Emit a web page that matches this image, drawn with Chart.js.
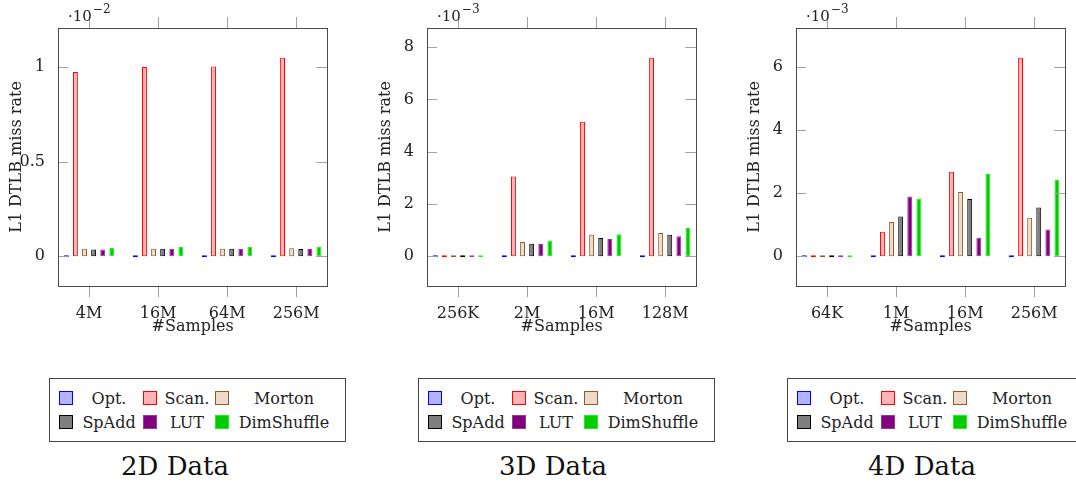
<!DOCTYPE html>
<html>
<head>
<meta charset="utf-8">
<script src="https://cdn.jsdelivr.net/npm/chart.js@4.4.1/dist/chart.umd.min.js"></script>
<style>
  body { margin: 0; width: 1076px; height: 484px; overflow: hidden; background: #fff; position: relative;
         font-family: 'DejaVu Serif', serif; color: #222; }
  .panel { position: absolute; top: 0; }
  .legend { position: absolute; top: 378px; border: 1px solid #444; display: grid;
            grid-template-columns: 16px 68px 16px 56px 16px 106px; grid-auto-rows: 24px;
            padding: 7px 8px 7px 9px; font-size: 16px; align-items: center; background: #fff; }
  .legend .sw { width: 12px; height: 12px; border: 1.5px solid; }
  .legend .lb { text-align: center; white-space: nowrap; }
  .title { position: absolute; top: 451px; width: 200px; text-align: center; font-size: 26px; color: #111; }
</style>
</head>
<body>
<canvas id="c2d" class="panel" style="left:0px"></canvas>
<canvas id="c3d" class="panel" style="left:369px"></canvas>
<canvas id="c4d" class="panel" style="left:738px"></canvas>
<div id="lg2d" class="legend" style="left:49px"></div>
<div id="lg3d" class="legend" style="left:418px"></div>
<div id="lg4d" class="legend" style="left:787px"></div>
<div class="title" style="left:75px">2D Data</div>
<div class="title" style="left:453px">3D Data</div>
<div class="title" style="left:822px">4D Data</div>

<script>
const seriesNames = ['Opt.', 'Scan.', 'Morton', 'SpAdd', 'LUT', 'DimShuffle'];
const fillColors = ['#b3b3ff', '#ffb3b3', '#eedac6', '#7f7f7f', '#800080', '#00cc00'];
const lineColors = ['#0000ff', '#ff0000', '#8c5a32', '#000000', '#9a3a9a', '#22ee22'];

// 2D data (x 10^-2)
const cats2D = ['4M', '16M', '64M', '256M'];
const opt2D = [0, 0, 0, 0];
const scan2D = [0.974, 1.0, 1.003, 1.049];
const morton2D = [0.039, 0.040, 0.040, 0.042];
const spadd2D = [0.035, 0.040, 0.040, 0.038];
const lut2D = [0.035, 0.038, 0.038, 0.038];
const dim2D = [0.044, 0.049, 0.049, 0.051];
const yTicks2D = [0, 0.5, 1];

// 3D data (x 10^-3)
const cats3D = ['256K', '2M', '16M', '128M'];
const opt3D = [0, 0, 0, 0];
const scan3D = [0, 3.05, 5.14, 7.59];
const morton3D = [0, 0.54, 0.82, 0.89];
const spadd3D = [0, 0.48, 0.70, 0.82];
const lut3D = [0, 0.47, 0.66, 0.76];
const dim3D = [0, 0.60, 0.84, 1.08];
const yTicks3D = [0, 2, 4, 6, 8];

// 4D data (x 10^-3)
const cats4D = ['64K', '1M', '16M', '256M'];
const opt4D = [0, 0, 0, 0];
const scan4D = [0, 0.78, 2.68, 6.30];
const morton4D = [0, 1.09, 2.04, 1.22];
const spadd4D = [0, 1.26, 1.82, 1.55];
const lut4D = [0, 1.90, 0.59, 0.85];
const dim4D = [0, 1.83, 2.61, 2.42];
const yTicks4D = [0, 2, 4, 6];

const W = 338, H = 340;
const FONT = "'DejaVu Serif', serif";

// frame, pgfplots style tick marks and the axis multiplier
const pgfFrame = {
  id: 'pgfFrame',
  afterDraw(chart, args, opts) {
    const ctx = chart.ctx;
    const a = chart.chartArea;
    const xs = chart.scales.x, ys = chart.scales.y;
    ctx.save();
    ctx.strokeStyle = '#a0a0a0';
    ctx.lineWidth = 1;
    xs.ticks.forEach(t => {
      const px = Math.round(xs.getPixelForValue(t.value)) + 0.5;
      ctx.beginPath();
      ctx.moveTo(px, a.bottom); ctx.lineTo(px, a.bottom + 11);
      ctx.moveTo(px, a.top - 11); ctx.lineTo(px, a.top);
      ctx.stroke();
    });
    ys.ticks.forEach(t => {
      const py = Math.round(ys.getPixelForValue(t.value)) + 0.5;
      ctx.beginPath();
      ctx.moveTo(a.left, py); ctx.lineTo(a.left + 10, py);
      ctx.moveTo(a.right - 11, py); ctx.lineTo(a.right, py);
      ctx.stroke();
    });
    ctx.strokeStyle = '#4a4a4a';
    ctx.strokeRect(Math.round(a.left) + 0.5, Math.round(a.top) + 0.5,
                   Math.round(a.right - a.left), Math.round(a.bottom - a.top));
    ctx.fillStyle = '#222';
    ctx.textBaseline = 'alphabetic';
    ctx.font = '15px ' + FONT;
    const x0 = a.left + 10;
    ctx.fillText('\u00b710', x0, 21);
    const w = ctx.measureText('\u00b710').width;
    ctx.font = '12px ' + FONT;
    ctx.fillText('\u2212' + opts.exp, x0 + w + 1, 13);
    ctx.restore();
  }
};

function makePanel(id, cats, series, yTicks, exp) {
  const all = series.flat();
  const top = Math.max(...all);
  const n = cats.length - 1;
  const canvas = document.getElementById(id);
  canvas.width = W; canvas.height = H;

  const datasets = series.map((vals, i) => ({
    label: seriesNames[i],
    data: vals.map((v, j) => ({ x: j, y: v })),
    backgroundColor: fillColors[i],
    borderColor: lineColors[i],
    borderWidth: 1,
    borderSkipped: false,
    minBarLength: 2,
    categoryPercentage: 0.79,
    barPercentage: 0.54
  }));

  return new Chart(canvas, {
    type: 'bar',
    data: { datasets },
    options: {
      responsive: false,
      animation: false,
      layout: { padding: { top: 28, right: W - 335, left: 0, bottom: 0 } },
      plugins: { legend: { display: false }, tooltip: { enabled: false }, pgfFrame: { exp } },
      scales: {
        x: {
          type: 'linear',
          bounds: 'data',
          offset: false,
          min: -0.15 * n,
          max: n * 1.15,
          grid: { display: false, drawTicks: false, offset: false },
          border: { display: false },
          afterBuildTicks: s => { s.ticks = cats.map((c, i) => ({ value: i })); },
          afterFit: s => { s.height = H - 286; },
          ticks: {
            padding: 18,
            color: '#222',
            font: { family: FONT, size: 16 },
            callback: v => cats[v]
          },
          title: {
            display: true,
            text: '#Samples',
            color: '#222',
            font: { family: FONT, size: 16 },
            padding: { top: 0, bottom: 4 }
          }
        },
        y: {
          bounds: 'data',
          min: -0.15 * top,
          max: 1.15 * top,
          grid: { display: false, drawTicks: false },
          border: { display: false },
          afterBuildTicks: s => { s.ticks = yTicks.map(v => ({ value: v })); },
          afterFit: s => { s.width = 58; },
          ticks: {
            padding: 13,
            color: '#222',
            font: { family: FONT, size: 16 },
            callback: v => String(v)
          },
          title: {
            display: true,
            text: 'L1 DTLB miss rate',
            color: '#222',
            font: { family: FONT, size: 16 },
            padding: { top: 7, bottom: 0 }
          }
        }
      }
    },
    plugins: [pgfFrame]
  });
}

function makeLegend(id) {
  const box = document.getElementById(id);
  seriesNames.forEach((name, i) => {
    const sw = document.createElement('span');
    sw.className = 'sw';
    sw.style.background = fillColors[i];
    sw.style.borderColor = lineColors[i];
    const lb = document.createElement('span');
    lb.className = 'lb';
    lb.textContent = name;
    box.appendChild(sw);
    box.appendChild(lb);
  });
}

makePanel('c2d', cats2D, [opt2D, scan2D, morton2D, spadd2D, lut2D, dim2D], yTicks2D, 2);
makePanel('c3d', cats3D, [opt3D, scan3D, morton3D, spadd3D, lut3D, dim3D], yTicks3D, 3);
makePanel('c4d', cats4D, [opt4D, scan4D, morton4D, spadd4D, lut4D, dim4D], yTicks4D, 3);
makeLegend('lg2d');
makeLegend('lg3d');
makeLegend('lg4d');
</script>
</body>
</html>
